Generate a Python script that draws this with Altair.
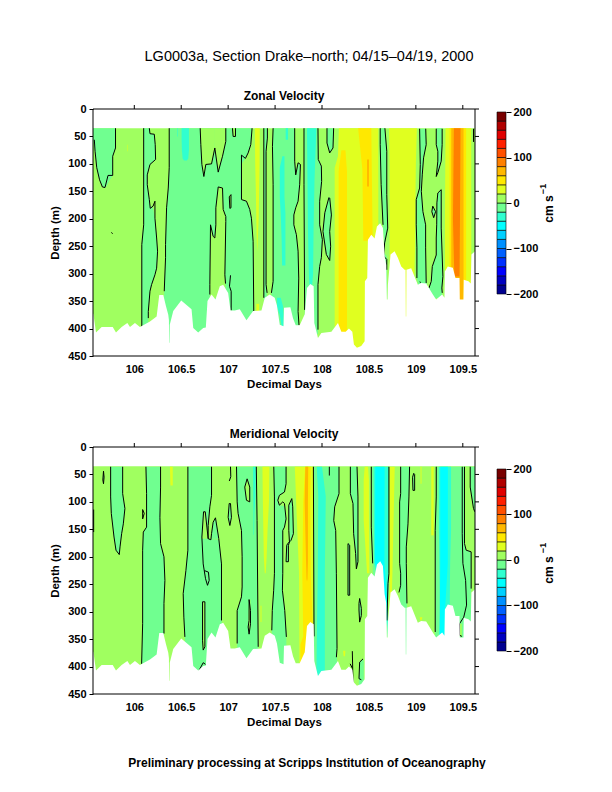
import altair as alt
import pandas as pd

MAIN_TITLE = "LG0003a, Section Drake\u2013north; 04/15\u201304/19, 2000"
FOOTER = "Preliminary processing at Scripps Institution of Oceanography"
FONT = "Liberation Sans"
X_MIN, X_MAX = 105.56, 109.63
W, H = 382, 247

LEVELS = [-200, -180, -160, -140, -120, -100, -80, -60, -40, -20, 0, 20, 40, 60, 80, 100, 120, 140, 160, 180]
COLORS = ["#000090", "#0000c0", "#0000ff", "#0030ff", "#0060ff", "#0090ff", "#00d0ff", "#00ffff", "#30ffd0", "#70ff90",
          "#a0ff60", "#e0ff20", "#ffe800", "#ffb800", "#ff8000", "#ff5000", "#ff2000", "#e00000", "#b00000", "#780000"]
A, G, C, CY, Y, YY, O1, O2 = 0, -20, -40, -60, 20, 40, 60, 80

BOTTOM_DAY = [105.56, 105.564, 105.592, 105.652, 105.77, 105.805, 105.865, 105.926, 105.954, 106.007, 106.06, 106.167, 106.238, 106.266,
              106.309, 106.337, 106.362, 106.369, 106.371, 106.375, 106.378, 106.415, 106.5, 106.61, 106.628, 106.681, 106.734, 106.762,
              106.78, 106.823, 106.865, 106.911, 106.947, 107.0, 107.025, 107.071, 107.124, 107.195, 107.266, 107.355, 107.39, 107.443,
              107.496, 107.52, 107.55, 107.59, 107.595, 107.663, 107.691, 107.72, 107.762, 107.816, 107.84, 107.876, 107.911, 107.918,
              107.957, 107.993, 108.1, 108.17, 108.206, 108.252, 108.287, 108.323, 108.34, 108.372, 108.418, 108.454, 108.457, 108.482,
              108.489, 108.525, 108.56, 108.585, 108.62, 108.649, 108.667, 108.684, 108.691, 108.698, 108.702, 108.73, 108.773, 108.808,
              108.844, 108.88, 108.89, 108.893, 108.897, 108.9, 108.95, 109.021, 109.057, 109.11, 109.181, 109.216, 109.28, 109.305,
              109.309, 109.34, 109.394, 109.422, 109.465, 109.468, 109.507, 109.51, 109.56, 109.585, 109.592, 109.63]
BOTTOM_DEPTH = [373, 373, 407, 397, 397, 407, 397, 390, 397, 390, 397, 387, 378, 339,
                339, 359, 375, 385, 426, 426, 393, 368, 349, 365, 399, 407, 399, 398,
                350, 338, 347, 323, 320, 335, 367, 367, 365, 385, 368, 367, 344, 338,
                344, 358, 393, 396, 362, 361, 381, 394, 394, 374, 326, 319, 323, 390,
                417, 408, 406, 390, 406, 406, 400, 406, 429, 435, 432, 423, 314, 308,
                238, 229, 236, 214, 208, 217, 268, 284, 347, 347, 320, 265, 259, 271,
                287, 293, 293, 378, 378, 293, 290, 320, 317, 318, 338, 347, 338, 344,
                296, 287, 289, 308, 308, 347, 347, 311, 314, 318, 265, 259]

# each band: (level, [(depth, left day, right day), ...]) in painting order
ZONAL_BANDS = [
    (A, [(35, X_MIN, X_MAX), (450, X_MIN, X_MAX)]),
    (G, [(35, 105.56, 105.80), (56, 105.56, 105.80), (71, 105.574, 105.80), (77, 105.582, 105.79), (86, 105.59, 105.77), (107, 105.60, 105.77),
         (121, 105.615, 105.77), (129, 105.63, 105.74), (142, 105.66, 105.70), (143, 105.688, 105.688)]),
    (Y, [(65, 105.925, 105.93), (77, 105.925, 105.93)]),
    (G, [(35, 106.10, 106.16), (45, 106.10, 106.167), (46, 106.10, 106.213), (65, 106.10, 106.223), (92, 106.10, 106.227), (101, 106.10, 106.167),
         (120, 106.10, 106.138), (138, 106.10, 106.138), (165, 106.10, 106.16), (175, 106.10, 106.165), (181, 106.10, 106.2), (199, 106.10, 106.22),
         (211, 106.10, 106.225), (235, 106.08, 106.238), (259, 106.08, 106.248), (290, 106.08, 106.238), (302, 106.08, 106.22), (320, 106.08, 106.184),
         (332, 106.08, 106.167), (369, 106.08, 106.149), (400, 106.08, 106.149)]),
    (G, [(35, 106.372, 107.255), (65, 106.372, 107.241), (80, 106.372, 107.213), (90, 106.372, 107.184), (100, 106.372, 107.142), (107, 106.372, 107.142),
         (144, 106.362, 107.142), (165, 106.355, 107.142), (168, 106.354, 107.195), (183, 106.344, 107.23), (199, 106.342, 107.248), (241, 106.333, 107.266),
         (271, 106.333, 107.268), (332, 106.319, 107.27), (369, 106.31, 107.273), (430, 106.30, 107.273)]),
    (C, [(35, 106.504, 106.582), (55, 106.504, 106.582), (75, 106.507, 106.582), (90, 106.515, 106.575), (94, 106.53, 106.56)]),
    (C, [(35, 106.456, 106.462), (50, 106.456, 106.462)]),
    (A, [(35, 106.702, 106.85), (65, 106.709, 106.855), (71, 106.712, 106.858), (86, 106.716, 106.84), (100, 106.72, 106.823), (101, 106.72, 106.762), (123, 106.741, 106.741)]),
    (A, [(35, 106.85, 106.975), (59, 106.85, 106.975), (71, 106.858, 106.96), (86, 106.87, 106.94), (100, 106.88, 106.915), (115, 106.894, 106.894)]),
    (A, [(142, 106.894, 106.94), (180, 106.869, 106.947), (196, 106.869, 106.975), (211, 106.869, 106.975), (225, 106.862, 106.975), (232, 106.858, 106.973),
         (236, 106.81, 106.973), (302, 106.805, 106.965), (318, 106.805, 106.972), (345, 106.805, 106.972)]),
    (A, [(211, 106.812, 106.812), (232, 106.812, 106.84), (236, 106.81, 106.858)]),
    (A, [(35, 107.046, 107.078), (50, 107.053, 107.078)]),
    (A, [(156, 107.012, 107.03), (181, 107.015, 107.03)]),
    (Y, [(35, 107.284, 107.337), (100, 107.288, 107.335), (150, 107.295, 107.33), (200, 107.30, 107.325), (240, 107.305, 107.315), (260, 107.31, 107.31)]),
    (Y, [(355, 107.30, 107.33), (370, 107.30, 107.33)]),
    (G, [(35, 107.38, 107.418), (53, 107.38, 107.418), (77, 107.38, 107.404), (320, 107.38, 107.404), (344, 107.38, 107.415), (400, 107.38, 107.415)]),
    (G, [(35, 107.479, 107.709), (95, 107.475, 107.709), (120, 107.479, 107.72), (122, 107.479, 107.76), (138, 107.479, 107.762), (168, 107.479, 107.745),
         (180, 107.479, 107.72), (193, 107.479, 107.70), (211, 107.479, 107.70), (229, 107.479, 107.727), (259, 107.479, 107.745), (308, 107.479, 107.752),
         (335, 107.461, 107.75), (369, 107.461, 107.745), (400, 107.461, 107.755)]),
    (G, [(98, 107.745, 107.745), (101, 107.735, 107.77), (110, 107.73, 107.77), (122, 107.722, 107.765)]),
    (C, [(35, 107.613, 107.638), (56, 107.613, 107.638)]),
    (C, [(86, 107.578, 107.60), (107, 107.55, 107.60), (160, 107.55, 107.60), (190, 107.56, 107.61), (240, 107.57, 107.61), (285, 107.575, 107.61)]),
    (C, [(344, 107.52, 107.56), (360, 107.52, 107.585), (375, 107.55, 107.59), (396, 107.57, 107.59)]),
    (G, [(35, 107.808, 107.957), (92, 107.808, 107.96), (104, 107.808, 107.993), (132, 107.809, 107.996), (168, 107.81, 107.975), (211, 107.81, 107.975),
         (238, 107.81, 108.004), (271, 107.812, 107.993), (287, 107.813, 107.975), (320, 107.813, 107.957), (366, 107.815, 107.957), (410, 107.815, 107.957)]),
    (C, [(35, 107.84, 107.94), (130, 107.845, 107.92), (220, 107.85, 107.91), (300, 107.86, 107.905), (320, 107.865, 107.895)]),
    (G, [(35, 108.053, 108.124), (62, 108.053, 108.12), (71, 108.07, 108.117), (80, 108.082, 108.082)]),
    (G, [(161, 108.074, 108.082), (189, 108.03, 108.10), (223, 108.01, 108.082), (250, 108.03, 108.092), (265, 108.046, 108.09), (276, 108.082, 108.082)]),
    (Y, [(35, 108.18, 108.6), (86, 108.17, 108.6), (107, 108.135, 108.6), (400, 108.135, 108.6), (408, 108.117, 108.6), (440, 108.117, 108.6)]),
    (YY, [(75, 108.206, 108.25), (114, 108.177, 108.266), (404, 108.177, 108.266), (440, 108.19, 108.26)]),
    (YY, [(35, 108.385, 108.525), (110, 108.43, 108.53), (240, 108.44, 108.54)]),
    (O1, [(92, 108.48, 108.50), (141, 108.48, 108.50)]),
    (G, [(35, 108.62, 108.67), (65, 108.62, 108.685), (77, 108.62, 108.69), (138, 108.63, 108.69), (156, 108.635, 108.69), (211, 108.65, 108.70), (217, 108.65, 108.70),
         (244, 108.66, 108.675), (262, 108.66, 108.66), (268, 108.667, 108.69), (293, 108.67, 108.69), (347, 108.69, 108.695)]),
    (Y, [(35, 108.715, 109.011), (100, 108.72, 109.0), (170, 108.72, 108.995), (260, 108.72, 108.99), (300, 108.72, 108.985), (385, 108.72, 108.985)]),
    (G, [(36, 109.04, 109.105), (65, 109.042, 109.11), (89, 109.045, 109.082), (120, 109.047, 109.068), (144, 109.04, 109.058), (165, 109.004, 109.065), (187, 109.004, 109.075),
         (211, 109.005, 109.104), (253, 109.008, 109.104), (308, 109.011, 109.11), (325, 109.03, 109.12)]),
    (G, [(35, 109.217, 109.28), (65, 109.217, 109.28), (77, 109.234, 109.275), (95, 109.234, 109.27), (116, 109.224, 109.234), (123, 109.217, 109.217)]),
    (G, [(147, 109.27, 109.27), (153, 109.234, 109.27), (171, 109.224, 109.27), (211, 109.222, 109.27), (235, 109.217, 109.275), (266, 109.217, 109.28), (287, 109.175, 109.285),
         (305, 109.165, 109.288), (314, 109.164, 109.287), (326, 109.14, 109.277), (345, 109.14, 109.281)]),
    (G, [(177, 109.18, 109.18), (187, 109.17, 109.21), (198, 109.19, 109.19)]),
    (Y, [(35, 109.316, 109.589), (200, 109.31, 109.59), (350, 109.31, 109.59)]),
    (YY, [(35, 109.359, 109.536), (350, 109.359, 109.536)]),
    (O1, [(35, 109.377, 109.508), (350, 109.377, 109.508)]),
    (O2, [(35, 109.405, 109.476), (200, 109.395, 109.47), (305, 109.41, 109.465)]),
]

ZONAL_CONTOURS = [
    [(105.574, 56), (105.582, 77), (105.60, 107), (105.63, 129), (105.66, 142), (105.688, 143), (105.72, 121), (105.77, 121), (105.77, 86), (105.80, 71), (105.80, 35)],
    [(105.755, 225), (105.77, 227)],
    [(106.10, 35), (106.10, 211), (106.08, 247), (106.08, 397)],
    [(106.16, 35), (106.167, 45), (106.213, 46), (106.223, 65), (106.227, 92), (106.167, 101), (106.138, 120), (106.138, 138), (106.16, 165), (106.17, 181), (106.20, 177), (106.22, 168),
     (106.22, 199), (106.238, 235), (106.248, 259), (106.238, 290), (106.22, 302), (106.184, 320), (106.167, 332), (106.149, 369), (106.149, 381)],
    [(106.372, 35), (106.372, 107), (106.362, 144), (106.344, 180), (106.333, 247), (106.333, 271), (106.319, 332)],
    [(106.702, 35), (106.709, 65), (106.72, 101), (106.741, 123), (106.762, 101), (106.823, 100), (106.858, 71), (106.894, 115), (106.94, 86), (106.975, 59), (106.975, 35)],
    [(107.046, 35), (107.053, 50), (107.078, 50), (107.078, 35)],
    [(107.255, 35), (107.241, 65), (107.213, 80), (107.184, 90), (107.142, 84), (107.142, 165), (107.195, 168), (107.23, 183), (107.248, 199), (107.266, 241), (107.273, 369)],
    [(106.805, 338), (106.805, 320), (106.812, 211), (106.84, 232), (106.858, 235), (106.869, 211), (106.869, 180), (106.894, 142), (106.94, 144), (106.947, 183), (106.975, 196), (106.975, 205),
     (106.965, 302), (106.972, 318)],
    [(107.012, 160), (107.03, 156), (107.03, 180), (107.018, 181), (107.012, 160)],
    [(107.025, 303), (107.014, 323), (107.032, 332), (107.032, 367)],
    [(107.38, 35), (107.38, 344)],
    [(107.418, 35), (107.418, 53), (107.404, 77), (107.404, 320), (107.415, 335)],
    [(107.479, 35), (107.472, 68), (107.479, 138), (107.479, 314), (107.461, 335)],
    [(107.709, 35), (107.709, 95), (107.72, 120), (107.745, 98), (107.77, 101), (107.762, 138), (107.745, 168), (107.72, 180), (107.70, 193), (107.70, 211), (107.727, 229), (107.745, 259),
     (107.752, 308), (107.745, 369), (107.755, 394)],
    [(107.808, 35), (107.808, 138), (107.815, 366)],
    [(107.957, 35), (107.96, 92), (107.993, 104), (107.996, 132), (107.975, 168), (107.975, 211), (108.004, 238), (107.993, 271), (107.975, 287), (107.957, 320), (107.957, 402)],
    [(108.053, 35), (108.053, 62), (108.082, 80), (108.117, 71), (108.124, 35)],
    [(108.074, 161), (108.03, 189), (108.01, 223), (108.046, 265), (108.082, 276), (108.092, 250), (108.082, 223), (108.10, 193), (108.082, 162)],
    [(108.62, 35), (108.62, 65), (108.63, 138), (108.65, 211)],
    [(108.67, 35), (108.69, 77), (108.69, 156), (108.70, 217), (108.667, 244), (108.656, 268), (108.69, 274), (108.69, 293)],
    [(109.04, 36), (109.047, 101), (109.04, 144), (109.004, 165), (109.004, 211), (109.011, 253), (109.011, 308)],
    [(109.105, 36), (109.11, 65), (109.082, 89), (109.068, 120), (109.058, 150), (109.075, 187), (109.104, 211), (109.104, 253), (109.11, 317)],
    [(109.04, 315), (109.053, 316)],
    [(109.217, 36), (109.217, 65), (109.234, 77), (109.234, 95), (109.217, 123), (109.234, 116), (109.27, 95), (109.28, 65), (109.28, 36)],
    [(109.27, 147), (109.234, 153), (109.224, 171), (109.222, 211), (109.217, 235), (109.217, 266), (109.175, 287), (109.164, 314), (109.14, 326)],
    [(109.27, 147), (109.27, 217), (109.288, 305), (109.277, 326), (109.281, 335)],
    [(109.18, 177), (109.17, 187), (109.19, 198), (109.21, 187), (109.18, 177)],
    [(109.614, 36), (109.614, 60)],
]

MERID_BANDS = [
    (A, [(35, X_MIN, X_MAX), (450, X_MIN, X_MAX)]),
    (G, [(44, 105.672, 105.672), (55, 105.665, 105.678), (67, 105.672, 105.672)]),
    (G, [(36, 105.748, 105.876), (85, 105.748, 105.876), (91, 105.748, 105.88), (112, 105.75, 105.90), (121, 105.755, 105.895), (140, 105.77, 105.883), (158, 105.778, 105.865),
         (164, 105.784, 105.86), (182, 105.80, 105.848), (188, 105.805, 105.846), (196, 105.84, 105.84)]),
    (G, [(36, 106.124, 106.28), (73, 106.124, 106.28), (85, 106.131, 106.28), (146, 106.131, 106.274), (155, 106.096, 106.275), (176, 106.09, 106.28), (188, 106.089, 106.29),
         (200, 106.089, 106.316), (243, 106.089, 106.326), (285, 106.089, 106.316), (322, 106.089, 106.316), (395, 106.078, 106.316), (420, 106.078, 106.316)]),
    (Y, [(36, 106.38, 106.41), (70, 106.385, 106.41)]),
    (G, [(36, 106.571, 106.823), (88, 106.571, 106.823), (109, 106.571, 106.805), (143, 106.571, 106.787), (167, 106.571, 106.787), (169, 106.571, 106.905), (188, 106.571, 106.915),
         (213, 106.55, 106.929), (225, 106.55, 106.929), (267, 106.521, 106.929), (310, 106.528, 106.929), (346, 106.539, 106.94), (420, 106.54, 106.94)]),
    (G, [(129, 106.865, 106.865), (137, 106.84, 106.875), (158, 106.823, 106.895), (167, 106.816, 106.90)]),
    (A, [(118, 106.738, 106.756), (164, 106.72, 106.785), (167, 106.72, 106.787)]),
    (A, [(282, 106.727, 106.752), (364, 106.727, 106.752), (370, 106.734, 106.74)]),
    (G, [(36, 107.025, 107.03), (54, 107.02, 107.03), (62, 107.012, 107.014)]),
    (G, [(103, 107.011, 107.025), (128, 107.0, 107.035), (143, 107.018, 107.018)]),
    (G, [(36, 107.089, 107.30), (100, 107.096, 107.304), (121, 107.106, 107.306), (152, 107.142, 107.309), (200, 107.149, 107.311), (255, 107.149, 107.314), (273, 107.142, 107.315),
         (298, 107.096, 107.316), (364, 107.096, 107.32), (420, 107.096, 107.32)]),
    (A, [(58, 107.202, 107.21), (73, 107.177, 107.23), (97, 107.195, 107.23), (100, 107.21, 107.23)]),
    (A, [(278, 107.223, 107.238), (328, 107.213, 107.238), (341, 107.223, 107.225)]),
    (C, [(36, 107.266, 107.295), (90, 107.268, 107.29), (120, 107.27, 107.28), (160, 107.27, 107.275)]),
    (Y, [(36, 107.365, 107.44), (100, 107.37, 107.435), (150, 107.375, 107.42), (200, 107.38, 107.41), (230, 107.39, 107.40)]),
    (Y, [(289, 107.345, 107.355), (319, 107.345, 107.355)]),
    (G, [(36, 107.486, 107.617), (67, 107.49, 107.617), (82, 107.49, 107.60), (88, 107.49, 107.546), (97, 107.49, 107.529), (106, 107.49, 107.546), (108, 107.49, 107.60), (131, 107.49, 107.617),
         (146, 107.49, 107.60), (152, 107.49, 107.582), (230, 107.49, 107.582), (261, 107.485, 107.578), (298, 107.47, 107.603), (334, 107.465, 107.62), (350, 107.465, 107.62), (400, 107.465, 107.62)]),
    (G, [(94, 107.678, 107.678), (106, 107.646, 107.688), (152, 107.653, 107.692), (158, 107.653, 107.695), (170, 107.66, 107.67), (179, 107.624, 107.642), (209, 107.617, 107.642)]),
    (Y, [(36, 107.71, 107.908), (230, 107.755, 107.908), (400, 107.76, 107.908)]),
    (YY, [(36, 107.82, 107.88), (100, 107.80, 107.875), (230, 107.79, 107.88), (345, 107.80, 107.905), (360, 107.77, 107.83), (400, 107.77, 107.83)]),
    (O1, [(36, 107.822, 107.853), (100, 107.815, 107.85), (210, 107.83, 107.85), (240, 107.835, 107.845), (245, 107.84, 107.84)]),
    (G, [(36, 107.908, 108.181), (85, 107.908, 108.181), (109, 107.91, 108.135), (134, 107.91, 108.125), (152, 107.91, 108.146), (231, 107.912, 108.153), (298, 107.915, 108.16), (420, 107.915, 108.16)]),
    (C, [(36, 107.944, 108.0), (90, 107.96, 108.04), (230, 107.955, 108.03), (345, 107.945, 108.03), (420, 107.94, 108.03)]),
    (G, [(36, 108.302, 108.373), (85, 108.302, 108.38), (103, 108.33, 108.383), (158, 108.337, 108.383), (194, 108.358, 108.383), (209, 108.363, 108.383), (222, 108.366, 108.366)]),
    (G, [(176, 108.277, 108.295), (270, 108.277, 108.295)]),
    (G, [(276, 108.394, 108.41), (297, 108.394, 108.419), (319, 108.40, 108.405)]),
    (G, [(386, 108.437, 108.437), (392, 108.40, 108.445), (440, 108.39, 108.445)]),
    (Y, [(371, 108.224, 108.249), (381, 108.23, 108.245)]),
    (Y, [(36, 108.455, 108.49), (60, 108.444, 108.50), (133, 108.444, 108.50), (230, 108.48, 108.505)]),
    (G, [(36, 108.525, 108.71), (146, 108.525, 108.71), (212, 108.54, 108.71), (270, 108.54, 108.70), (325, 108.69, 108.70)]),
    (C, [(36, 108.55, 108.71), (212, 108.555, 108.71), (325, 108.69, 108.70), (347, 108.69, 108.695)]),
    (CY, [(36, 108.568, 108.667), (212, 108.565, 108.665), (270, 108.655, 108.69), (290, 108.68, 108.69)]),
    (Y, [(36, 108.72, 108.775), (150, 108.72, 108.76), (230, 108.72, 108.75), (260, 108.72, 108.745), (300, 108.72, 108.74)]),
    (G, [(36, 108.838, 108.933), (85, 108.838, 108.926), (100, 108.827, 108.922), (140, 108.827, 108.916), (182, 108.827, 108.898), (212, 108.83, 108.90), (285, 108.83, 108.905), (400, 108.83, 108.905)]),
    (G, [(48, 108.972, 108.985), (79, 108.968, 108.987)]),
    (Y, [(36, 109.05, 109.06), (67, 109.05, 109.06)]),
    (Y, [(36, 109.164, 109.19), (161, 109.164, 109.19)]),
    (Y, [(310, 109.04, 109.07), (316, 109.05, 109.06)]),
    (G, [(36, 109.217, X_MAX), (91, 109.217, X_MAX), (152, 109.206, X_MAX), (212, 109.206, X_MAX), (420, 109.206, X_MAX)]),
    (C, [(36, 109.245, 109.375), (150, 109.245, 109.375), (212, 109.25, 109.365), (300, 109.255, 109.36), (345, 109.26, 109.35)]),
    (CY, [(36, 109.26, 109.341), (212, 109.26, 109.34), (300, 109.255, 109.31), (345, 109.25, 109.305)]),
    (A, [(36, 109.518, 109.579), (73, 109.518, 109.579), (112, 109.518, 109.614), (118, 109.518, 109.628), (176, 109.518, 109.628), (188, 109.536, 109.628), (191, 109.589, 109.628), (300, 109.589, 109.628)]),
    (A, [(322, 109.465, 109.49), (345, 109.465, 109.49)]),
]

MERID_CONTOURS = [
    [(105.672, 44), (105.665, 60), (105.672, 67), (105.678, 55), (105.672, 44)],
    [(105.567, 114), (105.567, 155)],
    [(105.748, 36), (105.748, 91), (105.755, 121), (105.784, 164), (105.805, 188), (105.84, 196), (105.848, 182), (105.865, 158), (105.883, 140), (105.90, 112), (105.876, 85), (105.876, 36)],
    [(106.124, 36), (106.131, 85), (106.131, 146), (106.096, 155), (106.089, 188), (106.089, 322), (106.078, 395)],
    [(106.089, 114), (106.106, 121), (106.089, 131), (106.089, 114)],
    [(106.28, 36), (106.28, 73), (106.273, 128), (106.28, 176), (106.316, 200), (106.326, 243), (106.316, 285), (106.316, 340)],
    [(106.571, 36), (106.571, 188), (106.55, 225), (106.521, 267), (106.528, 310), (106.539, 346)],
    [(106.823, 36), (106.823, 88), (106.805, 109), (106.787, 143), (106.787, 167), (106.816, 169), (106.823, 158), (106.84, 137), (106.865, 129), (106.90, 167), (106.929, 213), (106.929, 316)],
    [(107.089, 36), (107.096, 100), (107.106, 121), (107.142, 152), (107.149, 200), (107.149, 255), (107.142, 273), (107.096, 298), (107.096, 358)],
    [(106.738, 118), (106.72, 164), (106.734, 213), (106.745, 225), (106.759, 240), (106.78, 252), (106.798, 243), (106.79, 228), (106.745, 225)],
    [(106.738, 118), (106.756, 118), (106.787, 167)],
    [(106.727, 282), (106.752, 282), (106.752, 364), (106.734, 370), (106.727, 352), (106.727, 282)],
    [(106.69, 407), (106.734, 393), (106.759, 396)],
    [(107.025, 36), (107.028, 54), (107.012, 62)],
    [(107.011, 103), (107.0, 128), (107.018, 143), (107.035, 128), (107.025, 103), (107.011, 103)],
    [(107.223, 278), (107.223, 316), (107.213, 328), (107.223, 341), (107.238, 322), (107.238, 298), (107.223, 278)],
    [(107.202, 58), (107.177, 73), (107.195, 97), (107.23, 100), (107.23, 73), (107.202, 58)],
    [(107.30, 36), (107.308, 134), (107.32, 364)],
    [(107.486, 36), (107.493, 91), (107.493, 230), (107.485, 261), (107.47, 298), (107.465, 334)],
    [(107.617, 36), (107.617, 67), (107.60, 82), (107.546, 88), (107.529, 97), (107.546, 106), (107.582, 100), (107.60, 103), (107.617, 131), (107.60, 146), (107.582, 152), (107.582, 230),
     (107.578, 261), (107.603, 298), (107.62, 346)],
    [(107.678, 94), (107.688, 109), (107.695, 158), (107.67, 170), (107.635, 176), (107.624, 179), (107.617, 209), (107.642, 209), (107.642, 179), (107.653, 173), (107.646, 152), (107.646, 106), (107.678, 94)],
    [(107.908, 36), (107.915, 345)],
    [(108.078, 36), (108.078, 52)],
    [(108.181, 36), (108.181, 85), (108.135, 109), (108.125, 134), (108.146, 152), (108.153, 231), (108.16, 367), (108.153, 383)],
    [(108.302, 36), (108.302, 85), (108.33, 103), (108.337, 158), (108.358, 194), (108.366, 222), (108.383, 209), (108.383, 91), (108.373, 36)],
    [(108.277, 176), (108.277, 270), (108.295, 270), (108.295, 179), (108.277, 176)],
    [(108.401, 276), (108.394, 285), (108.394, 297), (108.401, 319), (108.419, 307), (108.419, 294), (108.401, 276)],
    [(108.323, 372), (108.33, 428)],
    [(108.30, 395), (108.323, 403)],
    [(108.437, 386), (108.401, 392), (108.394, 422), (108.419, 424)],
    [(108.525, 36), (108.525, 146), (108.54, 212)],
    [(108.713, 36), (108.713, 231), (108.703, 249), (108.692, 316)],
    [(108.838, 36), (108.838, 85), (108.827, 100), (108.827, 212), (108.838, 230), (108.838, 252), (108.82, 265)],
    [(108.933, 36), (108.926, 91), (108.916, 140), (108.898, 182), (108.898, 212), (108.905, 285)],
    [(108.977, 48), (108.965, 55), (108.969, 79), (108.987, 79), (108.987, 50), (108.977, 48)],
    [(109.217, 36), (109.217, 91), (109.206, 152), (109.206, 337)],
    [(109.494, 36), (109.494, 158), (109.501, 212), (109.53, 243), (109.54, 288), (109.51, 310), (109.465, 322), (109.465, 343), (109.49, 345)],
    [(109.518, 36), (109.518, 176), (109.536, 188), (109.589, 191), (109.589, 258)],
    [(109.579, 36), (109.579, 73), (109.614, 112), (109.628, 118)],
]

X_TICKS = [106, 106.5, 107, 107.5, 108, 108.5, 109, 109.5]
Y_TICKS = [0, 50, 100, 150, 200, 250, 300, 350, 400, 450]
BAR_TICKS = [-200, -100, 0, 100, 200]

xs = alt.Scale(domain=[X_MIN, X_MAX], nice=False, zero=False)
ys = alt.Scale(domain=[0, 450], reverse=True, nice=False, zero=False)
level_scale = alt.Scale(domain=[str(v) for v in LEVELS], range=COLORS)

Y_AXIS = alt.Axis(values=Y_TICKS, title="Depth (m)", grid=False, domain=False, tickSize=4, tickColor="black",
                  labelFont=FONT, labelFontSize=11, labelFontWeight="bold", labelColor="black", labelPadding=3,
                  titleFont=FONT, titleFontSize=11.5, titleFontWeight="bold", titleColor="black", titlePadding=7)
X_AXIS = alt.Axis(values=X_TICKS, title="Decimal Days", grid=False, domain=False, ticks=False, format="~g",
                  labelFont=FONT, labelFontSize=11, labelFontWeight="bold", labelColor="black", labelPadding=7,
                  titleFont=FONT, titleFontSize=11.5, titleFontWeight="bold", titleColor="black", titlePadding=4)


def text_layer(text, x, y, size=11, weight="bold", angle=0):
    return alt.Chart(pd.DataFrame({"t": [text]})).mark_text(
        font=FONT, fontSize=size, fontWeight=weight, align="center", baseline="middle", angle=angle, color="black", clip=False
    ).encode(x=alt.value(x), y=alt.value(y), text="t:N")


def panel(title, bands, contours, extra=None):
    band_rows = []
    for i, (level, rows) in enumerate(bands):
        for depth, left, right in rows:
            band_rows.append({"band": i, "level": str(level), "depth": depth, "left": left, "right": right})
    line_rows = []
    for i, pts in enumerate(contours):
        for j, (day, depth) in enumerate(pts):
            line_rows.append({"line": i, "seq": j, "day": day, "depth": depth})
    areas = alt.Chart(pd.DataFrame(band_rows)).mark_area(orient="horizontal", interpolate="linear", clip=True).encode(
        y=alt.Y("depth:Q", scale=ys, axis=Y_AXIS),
        x=alt.X("left:Q", scale=xs, stack=None, axis=X_AXIS),
        x2="right:Q",
        color=alt.Color("level:N", scale=level_scale, legend=None),
        detail="band:N",
    )
    lines = alt.Chart(pd.DataFrame(line_rows)).mark_line(color="black", strokeWidth=1, interpolate="linear", clip=True).encode(
        x=alt.X("day:Q", scale=xs, axis=X_AXIS),
        y=alt.Y("depth:Q", scale=ys, axis=Y_AXIS),
        detail="line:N",
        order="seq:Q",
    )
    mask_df = pd.DataFrame({"day": BOTTOM_DAY, "depth": BOTTOM_DEPTH, "floor": [450] * len(BOTTOM_DAY)})
    mask = alt.Chart(mask_df).mark_area(color="white", interpolate="linear", clip=True).encode(
        x=alt.X("day:Q", scale=xs, axis=X_AXIS, stack=None),
        y=alt.Y("depth:Q", scale=ys, axis=Y_AXIS),
        y2="floor:Q",
    )
    top_ticks = alt.Chart(pd.DataFrame({"day": X_TICKS})).mark_rule(color="black", strokeWidth=1).encode(
        x=alt.X("day:Q", scale=xs, axis=X_AXIS), y=alt.value(-4), y2=alt.value(0))
    right_ticks = alt.Chart(pd.DataFrame({"depth": Y_TICKS})).mark_rule(color="black", strokeWidth=1).encode(
        y=alt.Y("depth:Q", scale=ys, axis=Y_AXIS), x=alt.value(W), x2=alt.value(W + 4))
    one = pd.DataFrame({"a": [1]})
    frame = [
        alt.Chart(one).mark_rule(color="black", strokeWidth=1).encode(x=alt.value(0), x2=alt.value(W), y=alt.value(0)),
        alt.Chart(one).mark_rule(color="black", strokeWidth=1).encode(x=alt.value(0), x2=alt.value(W), y=alt.value(H)),
        alt.Chart(one).mark_rule(color="black", strokeWidth=1).encode(x=alt.value(0), y=alt.value(0), y2=alt.value(H)),
        alt.Chart(one).mark_rule(color="black", strokeWidth=1).encode(x=alt.value(W), y=alt.value(0), y2=alt.value(H)),
    ]
    layers = [areas, lines, mask, top_ticks, right_ticks] + frame + [text_layer(title, 191, -13, size=12)]
    if extra:
        layers += extra
    return alt.layer(*layers).properties(width=W, height=H)


def colorbar(offset, cm_y, sup_y):
    per_px = 400 / 182
    top = 200 + offset * per_px
    bottom = top - H * per_px
    df = pd.DataFrame({"lo": LEVELS, "hi": [v + 20 for v in LEVELS], "level": [str(v) for v in LEVELS], "a": [0] * 20, "b": [1] * 20})
    sc = alt.Scale(domain=[bottom, top], nice=False, zero=False)
    rects = alt.Chart(df).mark_rect(stroke="black", strokeWidth=0.6).encode(
        x=alt.X("a:Q", scale=alt.Scale(domain=[0, 1]), axis=None),
        x2="b:Q",
        y=alt.Y("lo:Q", scale=sc, axis=alt.Axis(orient="right", values=BAR_TICKS, title=None, grid=False, domain=False, tickSize=5, tickColor="black",
                                                 labelFont=FONT, labelFontSize=11, labelFontWeight="bold", labelColor="black", labelPadding=2)),
        y2="hi:Q",
        color=alt.Color("level:N", scale=level_scale, legend=None),
    )
    return alt.layer(
        rects,
        text_layer("cm s", 52, cm_y, size=12, angle=270),
        text_layer("\u22121", 46, sup_y, size=9, angle=270),
    ).properties(width=9, height=H)


top_panel = panel("Zonal Velocity", ZONAL_BANDS, ZONAL_CONTOURS, [text_layer(MAIN_TITLE, 216, -52, size=14.5, weight="normal")])
low_panel = panel("Meridional Velocity", MERID_BANDS, MERID_CONTOURS, [text_layer(FOOTER, 214, 316, size=12)])

chart = alt.vconcat(
    alt.hconcat(top_panel, colorbar(3, 100, 80), spacing=16),
    alt.hconcat(low_panel, colorbar(22, 123, 101), spacing=10),
    spacing=38,
).resolve_scale(color="shared").properties(
    padding={"left": 41, "top": 41, "right": 0, "bottom": 0}, background="white"
).configure_view(stroke="transparent", strokeWidth=0)

chart.save("out.html", embed_options={"renderer": "svg", "actions": False})
